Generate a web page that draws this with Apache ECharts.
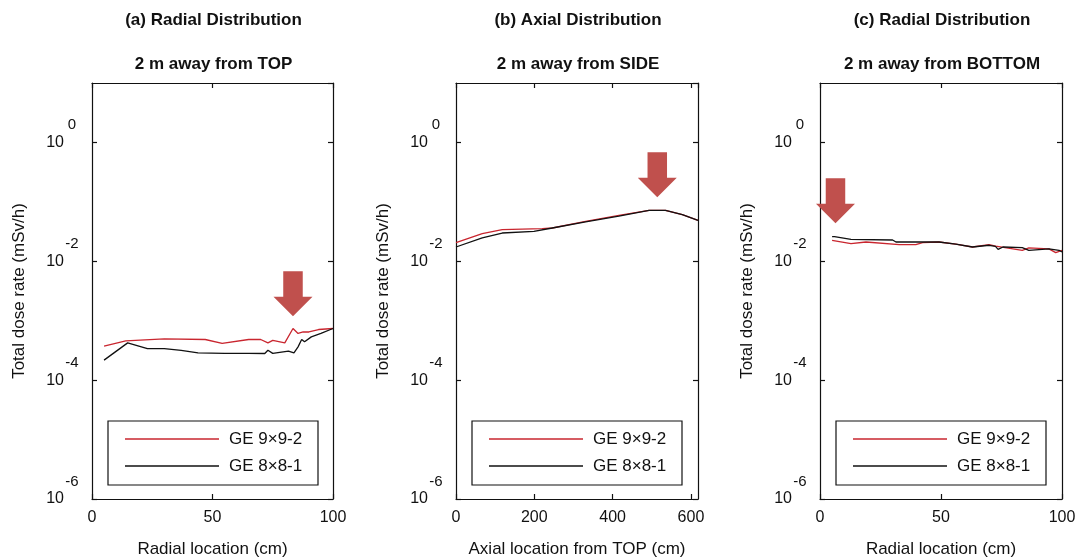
<!DOCTYPE html>
<html>
<head>
<meta charset="utf-8">
<script src="https://cdn.jsdelivr.net/npm/echarts@6/dist/echarts.min.js"></script>
<style>
  html, body { margin: 0; padding: 0; background: #fff; }
  #chart { width: 1080px; height: 560px; }
</style>
</head>
<body>
<div id="chart"></div>
<script>
// ---- (a) Radial distribution, 2 m away from TOP ----
const topRadialX9 = [5, 14, 30, 47, 54, 65, 70, 73, 75, 80, 83.4, 85.5, 87.6, 90, 94, 100];
const topDose9 = [3.72e-4, 4.58e-4, 4.94e-4, 4.83e-4, 4.14e-4, 4.83e-4, 4.83e-4, 4.24e-4, 4.68e-4, 4.24e-4, 7.40e-4, 6.10e-4, 6.46e-4, 6.46e-4, 7.11e-4, 7.40e-4];
const topRadialX8 = [5, 14.8, 23, 30, 37, 44, 55, 65, 71.7, 73, 75, 81.5, 83.8, 85.5, 87, 88.2, 91, 95, 100];
const topDose8 = [2.17e-4, 4.24e-4, 3.40e-4, 3.39e-4, 3.16e-4, 2.88e-4, 2.82e-4, 2.82e-4, 2.81e-4, 3.19e-4, 2.82e-4, 3.09e-4, 2.88e-4, 3.63e-4, 4.83e-4, 4.41e-4, 5.35e-4, 6.10e-4, 7.40e-4];

// ---- (b) Axial distribution, 2 m away from SIDE ----
const sideAxialX9 = [0, 67, 118, 220, 246, 331, 416, 493, 535, 578, 618];
const sideDose9 = [0.0206, 0.0292, 0.0341, 0.0355, 0.0363, 0.0470, 0.0593, 0.0719, 0.0719, 0.0610, 0.0489];
const sideAxialX8 = [0, 67, 118, 199, 246, 331, 416, 493, 535, 578, 618];
const sideDose8 = [0.0174, 0.0247, 0.0299, 0.0319, 0.0363, 0.0461, 0.0577, 0.0719, 0.0719, 0.0610, 0.0489];

// ---- (c) Radial distribution, 2 m away from BOTTOM ----
const bottomRadialX9 = [5, 12.8, 19, 32.7, 39.6, 42.4, 49.2, 56.1, 63, 69.9, 72.6, 83.6, 86.3, 94.6, 97.4, 100];
const bottomDose9 = [0.0225, 0.0198, 0.0211, 0.0191, 0.0191, 0.0206, 0.0211, 0.0195, 0.0174, 0.0191, 0.0180, 0.0153, 0.0168, 0.0162, 0.0140, 0.0153];
const bottomRadialX8 = [5, 6, 12.8, 30, 31.4, 49.2, 56.1, 63, 69.9, 72.5, 73.6, 75.6, 83.6, 86.3, 94.6, 98.8, 100];
const bottomDose8 = [0.0260, 0.0260, 0.0234, 0.0228, 0.0211, 0.0211, 0.0195, 0.0174, 0.0186, 0.0178, 0.0159, 0.0174, 0.0170, 0.0153, 0.0162, 0.0153, 0.0143];

// Points marked by the red arrows (x, dose rate at the arrow tip)
const arrowTop = [83.4, 1.19e-3];
const arrowSide = [514, 0.119];
const arrowBottom = [6.4, 0.0436];

const seriesNames = ['GE 9\u00d79-2', 'GE 8\u00d78-1'];
const panelTitles = ['(a) Radial Distribution', '(b) Axial Distribution', '(c) Radial Distribution'];
const panelSubtitles = ['2 m away from TOP', '2 m away from SIDE', '2 m away from BOTTOM'];
const xNames = ['Radial location (cm)', 'Axial location from TOP (cm)', 'Radial location (cm)'];
const xMaxes = [100, 618, 100];
const xSteps = [50, 200, 50];
const yName = 'Total dose rate (mSv/h)';

const FONT = '"Liberation Sans", Arial, Helvetica, sans-serif';
const INK = '#111';
const RED = '#c9262f';
const ARROW = '#c0504d';

const zip = (xs, ys) => xs.map((x, i) => [x, ys[i]]);
const panelData = [
  { s9: zip(topRadialX9, topDose9), s8: zip(topRadialX8, topDose8), arrow: arrowTop },
  { s9: zip(sideAxialX9, sideDose9), s8: zip(sideAxialX8, sideDose8), arrow: arrowSide },
  { s9: zip(bottomRadialX9, bottomDose9), s8: zip(bottomRadialX8, bottomDose8), arrow: arrowBottom }
];

// plot boxes
const boxes = [
  { left: 92, top: 83, width: 241, height: 416 },
  { left: 456, top: 83, width: 242, height: 416 },
  { left: 820, top: 83, width: 242, height: 416 }
];

const axisLineStyle = { color: INK, width: 1.2 };
const tickStyle = { inside: true, length: 5, lineStyle: { color: INK, width: 1.2 } };
// thin horizontal bar used as the legend key (a plain line)
const legendLineIcon = 'path://M0,0 L94,0 L94,1.4 L0,1.4 Z';

const option = {
  animation: false,
  backgroundColor: '#fff',
  title: [],
  grid: [],
  xAxis: [],
  yAxis: [],
  legend: [],
  series: []
};

boxes.forEach((b, i) => {
  const cx = b.left + b.width / 2 - 4;
  option.title.push({
    text: panelTitles[i], left: cx, top: 7, textAlign: 'center',
    textStyle: { fontFamily: FONT, fontSize: 17, fontWeight: 'bold', color: INK }
  });
  option.title.push({
    text: panelSubtitles[i], left: cx, top: 51, textAlign: 'center',
    textStyle: { fontFamily: FONT, fontSize: 17, fontWeight: 'bold', color: INK }
  });

  option.grid.push({
    left: b.left, top: b.top, width: b.width, height: b.height,
    containLabel: false, outerBoundsMode: 'none'
  });

  // bottom x axis with labels
  option.xAxis.push({
    type: 'value', gridIndex: i, position: 'bottom',
    min: 0, max: xMaxes[i], interval: xSteps[i],
    name: xNames[i], nameLocation: 'middle', nameGap: 42,
    nameTextStyle: { fontFamily: FONT, fontSize: 17, color: INK },
    axisLine: { show: true, onZero: false, lineStyle: axisLineStyle },
    axisTick: tickStyle,
    axisLabel: { margin: 11, fontFamily: FONT, fontSize: 16, color: INK, showMaxLabel: xMaxes[i] % xSteps[i] === 0 },
    splitLine: { show: false }
  });
  // mirrored top x axis (ticks only)
  option.xAxis.push({
    type: 'value', gridIndex: i, position: 'top',
    min: 0, max: xMaxes[i], interval: xSteps[i],
    axisLine: { show: true, onZero: false, lineStyle: axisLineStyle },
    axisTick: tickStyle,
    axisLabel: { show: false },
    splitLine: { show: false }
  });

  // left log axis with 10^n labels
  option.yAxis.push({
    type: 'log', logBase: 10, gridIndex: i, position: 'left',
    min: 1e-6, max: 10, interval: 2,
    name: yName, nameLocation: 'middle', nameGap: 64, nameRotate: 90,
    nameTextStyle: { fontFamily: FONT, fontSize: 17, color: INK },
    axisLine: { show: true, onZero: false, lineStyle: axisLineStyle },
    axisTick: tickStyle,
    axisLabel: {
      margin: 13, showMaxLabel: false,
      formatter: v => {
        const e = Math.round(Math.log10(v));
        return '{b|10}{e|' + e + '}';
      },
      rich: {
        b: { fontFamily: FONT, fontSize: 16, color: INK },
        e: { fontFamily: FONT, fontSize: 15, color: INK, padding: [0, 0, 35, 1], width: 14, align: 'left' }
      }
    },
    splitLine: { show: false },
    minorTick: { show: false }
  });
  // mirrored right log axis (ticks only)
  option.yAxis.push({
    type: 'log', logBase: 10, gridIndex: i, position: 'right',
    min: 1e-6, max: 10, interval: 2,
    axisLine: { show: true, onZero: false, lineStyle: axisLineStyle },
    axisTick: tickStyle,
    axisLabel: { show: false },
    splitLine: { show: false }
  });

  option.legend.push({
    data: seriesNames, orient: 'vertical',
    left: b.left + 16, top: 421,
    icon: legendLineIcon, symbolKeepAspect: true,
    itemWidth: 94, itemHeight: 20, itemGap: 7,
    padding: [8, 13, 9, 17],
    borderColor: INK, borderWidth: 1.2, backgroundColor: '#fff',
    selectedMode: false,
    textStyle: { fontFamily: FONT, fontSize: 17, color: INK, width: 76, lineHeight: 20, padding: [0, 0, 0, 5] }
  });

  const d = panelData[i];
  option.series.push({
    type: 'line', name: seriesNames[0], xAxisIndex: 2 * i, yAxisIndex: 2 * i,
    data: d.s9, symbol: 'none', lineStyle: { color: RED, width: 1.3 }, itemStyle: { color: RED }
  });
  option.series.push({
    type: 'line', name: seriesNames[1], xAxisIndex: 2 * i, yAxisIndex: 2 * i,
    data: d.s8, symbol: 'none', lineStyle: { color: INK, width: 1.3 }, itemStyle: { color: INK },
    markPoint: {
      silent: true,
      symbol: 'path://M10,0 L30,0 L30,26 L40,26 L20,46 L0,26 L10,26 Z',
      symbolSize: [39, 45],
      symbolOffset: [0, '-50%'],
      itemStyle: { color: ARROW },
      label: { show: false },
      data: [{ coord: d.arrow }]
    }
  });
});

const chart = echarts.init(document.getElementById('chart'), null, { renderer: 'canvas' });
chart.setOption(option);
</script>
</body>
</html>
